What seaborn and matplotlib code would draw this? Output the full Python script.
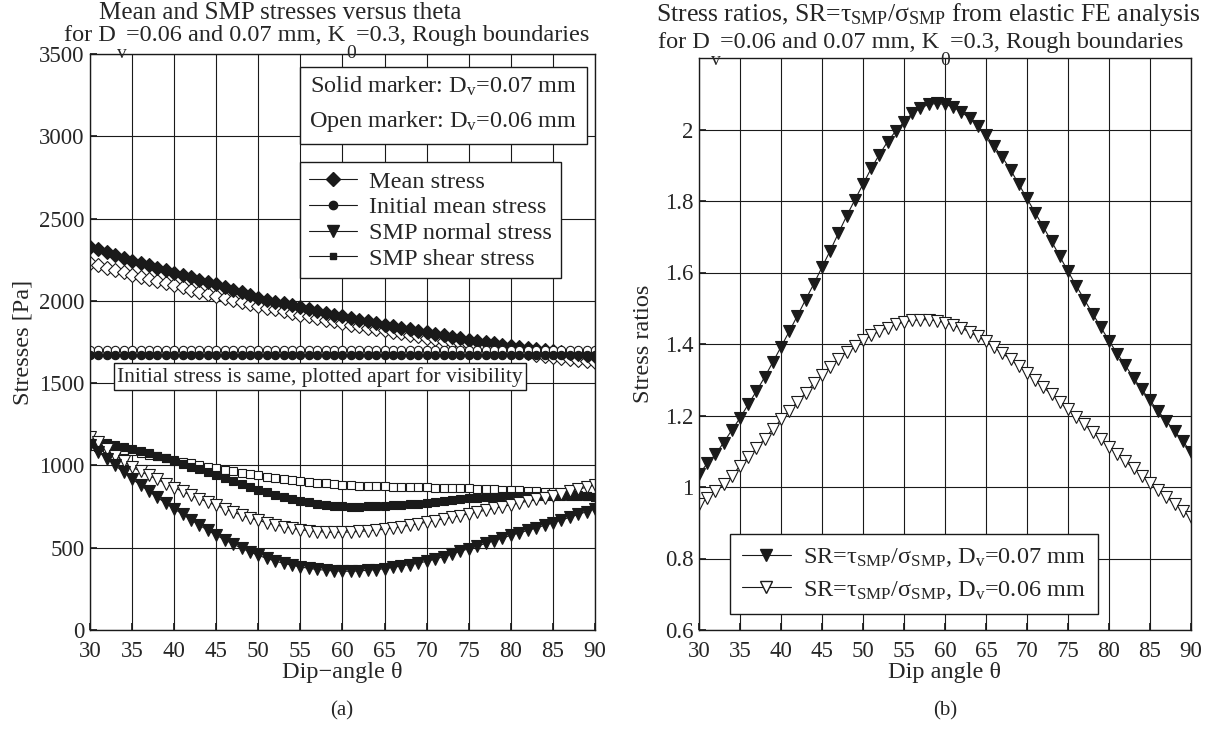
import matplotlib
matplotlib.use('Agg')
import matplotlib.pyplot as plt
from matplotlib.lines import Line2D
from matplotlib.ticker import FuncFormatter
import seaborn as sns

# dip angle, one point per degree
theta = list(range(30, 91))

# (a) stresses [Pa], solid = Dv 0.07 mm, open = Dv 0.06 mm
mean_007 = [2330, 2313, 2296, 2279, 2262, 2245, 2230, 2215, 2200, 2185,
            2170, 2156, 2142, 2128, 2114, 2100, 2084, 2068, 2052, 2036,
            2020, 2008, 1996, 1984, 1972, 1960, 1949, 1938, 1927, 1916,
            1905, 1895, 1885, 1875, 1865, 1855, 1846, 1837, 1828, 1819,
            1810, 1801, 1792, 1783, 1774, 1765, 1757, 1749, 1741, 1733,
            1725, 1719, 1713, 1707, 1701, 1695, 1689, 1683, 1677, 1671, 1665]
mean_006 = [2230, 2216, 2202, 2188, 2174, 2160, 2147, 2134, 2121, 2108,
            2095, 2082, 2069, 2056, 2043, 2030, 2018, 2006, 1994, 1982,
            1970, 1959, 1948, 1937, 1926, 1915, 1905, 1895, 1885, 1875,
            1865, 1856, 1847, 1838, 1829, 1820, 1811, 1802, 1793, 1784,
            1775, 1767, 1759, 1751, 1743, 1735, 1727, 1719, 1711, 1703,
            1695, 1688, 1681, 1674, 1667, 1660, 1654, 1648, 1642, 1636, 1630]
init_007 = [1670] * 61
init_006 = [1700] * 61
normal_007 = [1125, 1083, 1042, 1000, 958, 918, 880, 843, 806, 770,
              736, 703, 670, 637, 605, 576, 548, 522, 497, 474,
              454, 435, 419, 405, 393, 383, 375, 368, 363, 359,
              357, 357, 359, 363, 367, 373, 381, 389, 398, 407,
              417, 431, 446, 462, 478, 494, 510, 526, 542, 559,
              575, 590, 605, 620, 636, 651, 668, 685, 702, 719, 736]
normal_006 = [1175, 1140, 1100, 1060, 1025, 990, 965, 940, 915, 890,
              865, 842, 820, 798, 777, 757, 737, 717, 698, 681,
              666, 652, 639, 628, 618, 610, 603, 598, 595, 594,
              594, 596, 599, 603, 607, 612, 620, 628, 637, 646,
              655, 665, 675, 685, 695, 706, 717, 728, 739, 750,
              761, 772, 783, 794, 805, 817, 829, 842, 855, 868, 881]
shear_007 = [1150, 1143, 1135, 1127, 1115, 1102, 1088, 1073, 1058, 1043,
             1028, 1010, 993, 976, 959, 942, 922, 903, 885, 867,
             851, 836, 821, 807, 795, 784, 775, 767, 760, 755,
             751, 750, 750, 751, 753, 755, 758, 761, 764, 767,
             771, 777, 783, 789, 795, 800, 804, 808, 811, 814,
             816, 817, 817, 817, 817, 816, 815, 814, 813, 812, 811]
shear_006 = [1116, 1112, 1105, 1098, 1092, 1086, 1076, 1065, 1055, 1044,
             1034, 1023, 1013, 1003, 993, 983, 974, 965, 956, 947,
             939, 932, 925, 918, 912, 906, 901, 896, 891, 886,
             882, 880, 878, 876, 874, 872, 871, 870, 868, 867,
             866, 865, 864, 863, 862, 861, 859, 857, 855, 853,
             851, 849, 846, 843, 840, 837, 833, 828, 823, 817, 811]

# (b) stress ratios tau_SMP / sigma_SMP
sr_007 = [1.035, 1.066, 1.091, 1.124, 1.159, 1.193, 1.231, 1.268, 1.307, 1.349,
          1.392, 1.435, 1.479, 1.524, 1.568, 1.615, 1.661, 1.710, 1.758, 1.803,
          1.847, 1.891, 1.930, 1.966, 1.996, 2.021, 2.045, 2.060, 2.070, 2.073,
          2.070, 2.063, 2.049, 2.031, 2.009, 1.984, 1.953, 1.922, 1.887, 1.847,
          1.807, 1.767, 1.727, 1.687, 1.645, 1.603, 1.563, 1.524, 1.485, 1.447,
          1.409, 1.373, 1.340, 1.305, 1.273, 1.242, 1.212, 1.184, 1.156, 1.128, 1.098]
sr_006 = [0.952, 0.970, 0.988, 1.008, 1.030, 1.060, 1.083, 1.108, 1.135, 1.162,
          1.189, 1.213, 1.238, 1.263, 1.290, 1.314, 1.337, 1.358, 1.378, 1.395,
          1.410, 1.424, 1.436, 1.446, 1.455, 1.461, 1.466, 1.468, 1.468, 1.465,
          1.460, 1.453, 1.444, 1.434, 1.421, 1.407, 1.391, 1.374, 1.357, 1.338,
          1.319, 1.299, 1.279, 1.259, 1.238, 1.217, 1.196, 1.175, 1.154, 1.133,
          1.112, 1.092, 1.072, 1.052, 1.032, 1.012, 0.992, 0.972, 0.953, 0.934, 0.915]

sns.set_theme(style='ticks')
plt.rcParams['font.family'] = ['Liberation Serif', 'DejaVu Serif']
plt.rcParams['mathtext.fontset'] = 'custom'
plt.rcParams['mathtext.rm'] = 'Liberation Serif'
plt.rcParams['mathtext.it'] = 'Liberation Serif:italic'
plt.rcParams['axes.unicode_minus'] = False
FS = 17.5
TS = 16.5
SR = 'SR=$\\mathregular{τ_{SMP}/σ_{SMP}}$'

fig = plt.figure(figsize=(12.06, 7.43), dpi=100)
axL = fig.add_axes([90 / 1206, 1 - 630 / 743, 505 / 1206, 576 / 743])
axR = fig.add_axes([699 / 1206, 1 - 630 / 743, 492 / 1206, 572 / 743])


def curve(ax, y, mk, ms, solid):
    sns.lineplot(x=theta, y=y, ax=ax, color='k', lw=0.8, marker=mk, markersize=ms,
                 markerfacecolor='k' if solid else 'w', markeredgecolor='k',
                 markeredgewidth=0.8, legend=False)


curve(axL, mean_006, 'D', 7, False)
curve(axL, mean_007, 'D', 7, True)
curve(axL, init_006, 'o', 6, False)
curve(axL, init_007, 'o', 6, True)
curve(axL, shear_006, 's', 5.5, False)
curve(axL, shear_007, 's', 5.5, True)
curve(axL, normal_006, 'v', 8, False)
curve(axL, normal_007, 'v', 8, True)

curve(axR, sr_006, 'v', 8, False)
curve(axR, sr_007, 'v', 8, True)

fmt = FuncFormatter(lambda v, p: f'{v:g}')
for ax in (axL, axR):
    ax.set_xlim(30, 90)
    ax.set_xticks(range(30, 91, 5))
    ax.grid(True, color='0.1', lw=0.8)
    ax.tick_params(direction='in', labelsize=TS, length=5, color='k')
    ax.tick_params(axis='x', pad=8)
    ax.tick_params(axis='y', pad=4)
    ax.yaxis.set_major_formatter(fmt)
    for s in ax.spines.values():
        s.set_color('k')
        s.set_linewidth(1)

axL.set_ylim(0, 3500)
axL.set_yticks(range(0, 3501, 500))
axR.set_ylim(0.6, 2.2)
axR.set_yticks([0.6, 0.8, 1.0, 1.2, 1.4, 1.6, 1.8, 2.0])

axL.set_xlabel('Dip\u2212angle \u03b8', fontsize=FS, labelpad=0)
axL.set_ylabel('Stresses [Pa]', fontsize=FS, labelpad=4)
axR.set_xlabel('Dip angle \u03b8', fontsize=FS, labelpad=0)
axR.set_ylabel('Stress ratios', fontsize=FS, labelpad=8)

# legends
hL = [Line2D([], [], color='k', lw=0.8, marker=m, markersize=s, markerfacecolor='k', markeredgecolor='k')
      for m, s in [('D', 7), ('o', 6), ('v', 8), ('s', 5)]]
legL = axL.legend(hL, ['Mean stress', 'Initial mean stress', 'SMP normal stress', 'SMP shear stress'],
                  loc='upper left', bbox_to_anchor=(0.416, 0.812), borderaxespad=0, fontsize=FS,
                  fancybox=False, framealpha=1, edgecolor='k', labelspacing=0.15,
                  handlelength=2.0, handletextpad=0.5, borderpad=0.35)
legL.get_frame().set_linewidth(1)

hR = [Line2D([], [], color='k', lw=0.8, marker='v', markersize=8, markerfacecolor=f, markeredgecolor='k')
      for f in ('k', 'w')]
legR = axR.legend(hR, [SR + ', $\\mathregular{D_v}$=0.07 mm', SR + ', $\\mathregular{D_v}$=0.06 mm'],
                  loc='lower left', bbox_to_anchor=(0.063, 0.028), borderaxespad=0, fontsize=FS,
                  fancybox=False, framealpha=1, edgecolor='k', labelspacing=0.4,
                  handlelength=2.0, handletextpad=0.5, borderpad=0.5)
legR.get_frame().set_linewidth(1)

axL.text(0.7, 0.912, 'Solid marker: $\\mathregular{D_v}$=0.07 mm\nOpen marker: $\\mathregular{D_v}$=0.06 mm',
         transform=axL.transAxes, ha='center', va='center', fontsize=FS, linespacing=1.6, zorder=5,
         bbox=dict(boxstyle='square,pad=0.4', fc='w', ec='k', lw=1))
axL.text(0.455, 0.44, 'Initial stress is same, plotted apart for visibility',
         transform=axL.transAxes, ha='center', va='center', fontsize=15.5, zorder=5,
         bbox=dict(boxstyle='square,pad=0.15', fc='w', ec='k', lw=1))

# titles: second line with the subscripts dropped below the line as in the original
fig.text(280 / 1206, 1 - 13 / 743, 'Mean and SMP stresses versus theta', ha='center', va='center', fontsize=18)
fig.text(656 / 1206, 1 - 15 / 743, 'Stress ratios, ' + SR + ' from elastic FE analysis',
         ha='left', va='center', fontsize=18.5)


def drop_sub_line(ax, x_px, y_px, parts):
    prev = ax.annotate(parts[0][0], xy=(x_px, 743 - y_px), xycoords='figure pixels',
                       ha='left', va='baseline', fontsize=FS, annotation_clip=False, zorder=10)
    last_sub = prev
    for i, (txt, sub) in enumerate(parts):
        if i > 0:
            prev = ax.annotate(txt, xy=(1, 0), xycoords=(last_sub, prev), ha='left', va='bottom',
                               fontsize=FS, annotation_clip=False, zorder=10)
        if sub:
            last_sub = ax.annotate(sub, xy=(1, 0), xycoords=prev, xytext=(0.5, 1), textcoords='offset points',
                                   ha='left', va='top', fontsize=FS * 0.8, annotation_clip=False, zorder=10)


line2 = [('for D', 'v'), ('=0.06 and 0.07 mm, K', '0'), ('=0.3, Rough boundaries', None)]
drop_sub_line(axL, 64, 41, line2)
drop_sub_line(axR, 658, 48, line2)

fig.text(342 / 1206, 1 - 711 / 743, '(a)', ha='center', va='center', fontsize=15)
fig.text(945 / 1206, 1 - 711 / 743, '(b)', ha='center', va='center', fontsize=15)

fig.savefig('out.png', dpi=100, facecolor='w')
